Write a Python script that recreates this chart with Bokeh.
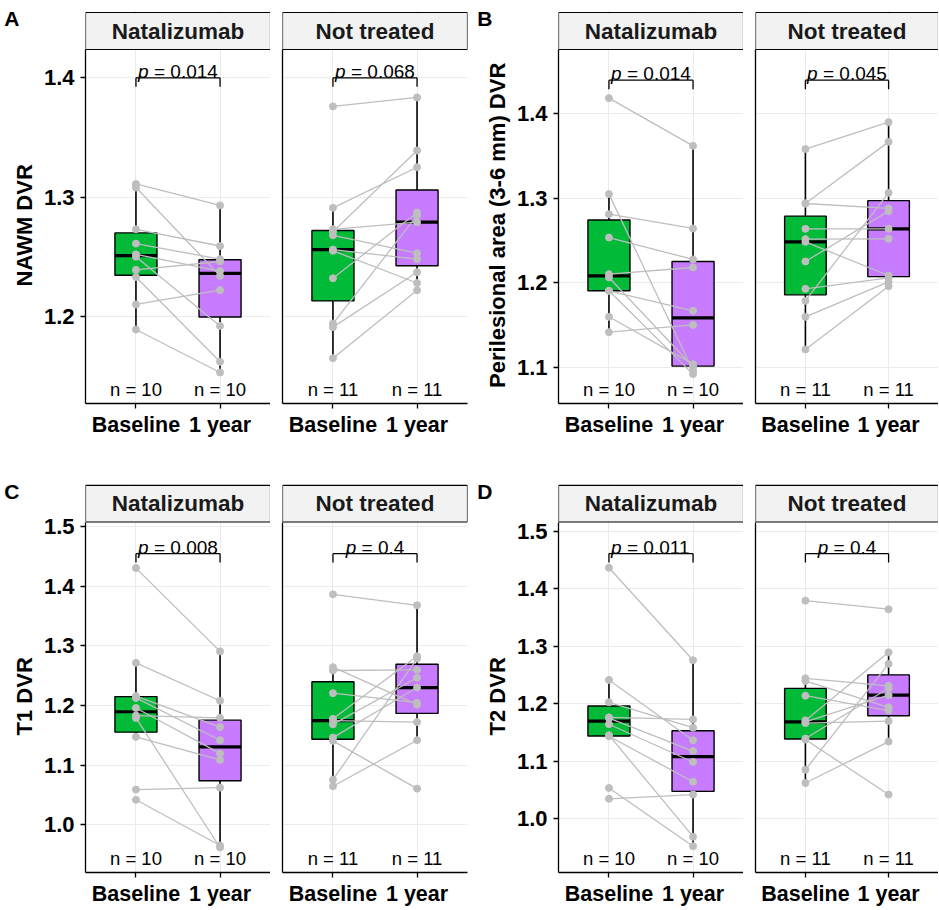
import numpy as np
from bokeh.plotting import figure
from bokeh.layouts import row, column
from bokeh.models import Range1d, FixedTicker, PrintfTickFormatter, LinearAxis
from bokeh.core.properties import value
from bokeh.embed import file_html
from bokeh.resources import INLINE

FONT = "Liberation Sans"

time_labels = ["Baseline", "1 year"]
group_labels = ["Natalizumab", "Not treated"]
box_colors = ["#00BA38", "#C77CFF"]

# ---- Panel A: NAWM DVR (paired: same index = same patient) ----
nawm_nat_base = [1.311, 1.308, 1.273, 1.261, 1.252, 1.250, 1.239, 1.233, 1.210, 1.189]
nawm_nat_1y = [1.293, 1.234, 1.259, 1.248, 1.238, 1.192, 1.246, 1.162, 1.222, 1.153]
nawm_nt_base = [1.376, 1.291, 1.273, 1.271, 1.268, 1.256, 1.255, 1.232, 1.194, 1.191, 1.165]
nawm_nt_1y = [1.3835, 1.325, 1.279, 1.339, 1.253, 1.248, 1.228, 1.287, 1.2846, 1.237, 1.222]

# ---- Panel B: Perilesional area (3-6 mm) DVR ----
peri_nat_base = [1.4186, 1.3049, 1.2812, 1.2535, 1.2101, 1.2062, 1.1904, 1.1904, 1.1596, 1.1414]
peri_nat_1y = [1.3621, 1.0956, 1.2642, 1.2275, 1.218, 1.1004, 1.1667, 1.0917, 1.1035, 1.150]
peri_nt_base = [1.3582, 1.2938, 1.2938, 1.2638, 1.2516, 1.2484, 1.2251, 1.1927, 1.1785, 1.1596, 1.1209]
peri_nt_1y = [1.3901, 1.3668, 1.2879, 1.2638, 1.2519, 1.2085, 1.2847, 1.2058, 1.3064, 1.201, 1.1959]

# ---- Panel C: T1 DVR ----
t1_nat_base = [1.43, 1.2713, 1.2155, 1.2125, 1.1957, 1.183, 1.179, 1.1473, 1.059, 1.0419]
t1_nat_1y = [1.2905, 1.2078, 1.1637, 1.1417, 1.1196, 1.1792, 0.962, 1.1086, 1.0623, 0.9653]
t1_nt_base = [1.386, 1.2641, 1.2585, 1.2205, 1.1775, 1.1745, 1.1683, 1.1461, 1.1406, 1.0755, 1.0645]
t1_nt_1y = [1.3677, 1.2012, 1.2596, 1.2045, 1.2823, 1.172, 1.2464, 1.2299, 1.0606, 1.2784, 1.1417]

# ---- Panel D: T2 DVR ----
t2_nat_base = [1.4365, 1.2415, 1.2026, 1.1765, 1.175, 1.1645, 1.1455, 1.1436, 1.0538, 1.0349]
t2_nat_1y = [1.2757, 1.1367, 1.1585, 1.1728, 1.1178, 1.0989, 0.9691, 1.0646, 0.9525, 1.0423]
t2_nt_base = [1.3793, 1.2443, 1.2397, 1.2141, 1.1712, 1.1685, 1.1666, 1.1396, 1.1379, 1.0854, 1.0624]
t2_nt_1y = [1.3644, 1.2312, 1.194, 1.1883, 1.2895, 1.215, 1.17, 1.2271, 1.0423, 1.2695, 1.1344]

# p-values, y ranges, ticks, bracket heights
p_A = ["0.014", "0.068"]
p_B = ["0.014", "0.045"]
p_C = ["0.008", "0.4"]
p_D = ["0.011", "0.4"]

ticks_A = [1.2, 1.3, 1.4]
ticks_B = [1.1, 1.2, 1.3, 1.4]
ticks_C = [1.0, 1.1, 1.2, 1.3, 1.4, 1.5]
ticks_D = [1.0, 1.1, 1.2, 1.3, 1.4, 1.5]

yrange_A = (1.127, 1.4237)
yrange_B = (1.0569, 1.4762)
yrange_C = (0.9201, 1.5072)
yrange_D = (0.9068, 1.516)

bracket_A = 1.400
bracket_B = 1.4399
bracket_C = 1.4542
bracket_D = 1.4611

panels = [
    dict(letter="A", ylabel="NAWM DVR", yr=yrange_A, ticks=ticks_A, bracket=bracket_A, p=p_A,
         data=[(nawm_nat_base, nawm_nat_1y), (nawm_nt_base, nawm_nt_1y)]),
    dict(letter="B", ylabel="Perilesional area (3-6 mm) DVR", yr=yrange_B, ticks=ticks_B, bracket=bracket_B, p=p_B,
         data=[(peri_nat_base, peri_nat_1y), (peri_nt_base, peri_nt_1y)]),
    dict(letter="C", ylabel="T1 DVR", yr=yrange_C, ticks=ticks_C, bracket=bracket_C, p=p_C,
         data=[(t1_nat_base, t1_nat_1y), (t1_nt_base, t1_nt_1y)]),
    dict(letter="D", ylabel="T2 DVR", yr=yrange_D, ticks=ticks_D, bracket=bracket_D, p=p_D,
         data=[(t2_nat_base, t2_nat_1y), (t2_nt_base, t2_nt_1y)]),
]

# ---- layout geometry (pixels) ----
STRIP_BAND = 37      # strip height
STRIP_PAD = 2        # gap between frame top and strip top
ROW_GEOM = [dict(top=10, data_h=354, bottom=71),
            dict(top=9, data_h=355, bottom=31)]
# per facet figure: (left border, frame width, right border)
COL_GEOM = [[(85, 185, 0), (12, 185, 3)],
            [(88, 185, 0), (12, 183, 0)]]
# trailing no-break spaces re-centre the y title on the data area (the strip sits inside the frame)
TITLE_PAD = "\u00a0" * 6

GRAY = "#BEBEBE"
GRID = "#EBEBEB"
EM = {' ': 0.278, '=': 0.584, '.': 0.278, 'p': 0.556}


def text_w(s, size):
    return sum(EM.get(c, 0.556) for c in s) * size


def box_stats(v):
    v = np.asarray(v, dtype=float)
    q1, med, q3 = np.percentile(v, [25, 50, 75])
    iqr = q3 - q1
    lo = v[v >= q1 - 1.5 * iqr].min()
    hi = v[v <= q3 + 1.5 * iqr].max()
    return q1, med, q3, lo, hi


def facet_fig(pn, gi, rg, cg):
    first = gi == 0
    lb, fw, rb = cg[gi]
    top_b = rg['top']
    dh = rg['data_h']
    bb = rg['bottom']
    above = STRIP_BAND + STRIP_PAD
    fh = dh + above
    y0, y1 = pn['yr']
    px = (y1 - y0) / dh  # data units per pixel
    ytop = y1 + above * px

    p = figure(width=lb + fw + rb, height=top_b + fh + bb, x_range=Range1d(0.4, 2.6),
               y_range=Range1d(y0, ytop), x_axis_location="below", y_axis_location="left",
               toolbar_location=None, output_backend="svg", min_border_left=lb,
               min_border_right=rb, min_border_top=top_b, min_border_bottom=bb)
    p.outline_line_color = None
    p.background_fill_color = "white"

    xa = p.xaxis[0]
    xa.ticker = FixedTicker(ticks=[1, 2])
    xa.major_label_overrides = {1: time_labels[0], 2: time_labels[1]}
    xa.minor_tick_line_color = None
    xa.major_tick_in = 0
    xa.major_tick_out = 5
    xa.major_tick_line_width = 1.3
    xa.axis_line_width = 1.3
    xa.axis_line_color = "black"
    xa.major_tick_line_color = "black"
    xa.major_label_standoff = 4
    xa.major_label_text_font = FONT
    xa.major_label_text_font_size = "21.5px"
    xa.major_label_text_font_style = "bold"
    xa.major_label_text_color = "black"

    ya = p.yaxis[0]
    ya.bounds = (y0, y1)
    ya.axis_line_width = 1.3
    ya.axis_line_color = "black"
    ya.minor_tick_line_color = None
    if first:
        ya.ticker = FixedTicker(ticks=pn['ticks'])
        ya.formatter = PrintfTickFormatter(format="%.1f")
        ya.major_tick_in = 0
        ya.major_tick_out = 5
        ya.major_tick_line_width = 1.3
        ya.major_tick_line_color = "black"
        ya.major_label_standoff = 6
        ya.major_label_text_font = FONT
        ya.major_label_text_font_size = "22px"
        ya.major_label_text_font_style = "bold"
        ya.major_label_text_color = "black"
        ya.axis_label = pn['ylabel'] + TITLE_PAD
        ya.axis_label_standoff = 4
        ya.axis_label_text_font = FONT
        ya.axis_label_text_font_size = "22px"
        ya.axis_label_text_font_style = "bold"
        ya.axis_label_text_color = "black"

        # panel letter, level with the top of the strip
        yl = round(y1 + (STRIP_BAND - 6) * px, 6)
        la = LinearAxis(ticker=FixedTicker(ticks=[yl]), major_label_overrides={yl: pn['letter']},
                        axis_line_color=None, major_tick_line_color=None, minor_tick_line_color=None,
                        major_tick_in=0, major_tick_out=0, major_label_standoff=-11)
        la.major_label_text_font = FONT
        la.major_label_text_font_size = "21px"
        la.major_label_text_font_style = "bold"
        la.major_label_text_color = "black"
        p.add_layout(la, "left")
    else:
        ya.ticker = FixedTicker(ticks=[])
        ya.major_tick_out = 0
        ya.major_tick_in = 0
        ya.major_label_standoff = 0

    p.xgrid.ticker = FixedTicker(ticks=[1, 2])
    p.ygrid.ticker = FixedTicker(ticks=pn['ticks'])
    p.xgrid.bounds = (y0, y1)
    p.xgrid.grid_line_color = GRID
    p.ygrid.grid_line_color = GRID
    p.xgrid.grid_line_width = 1
    p.ygrid.grid_line_width = 1

    # facet strip (above the data area, inside the frame)
    p.quad(left=[0.4], right=[2.6], bottom=[y1], top=[y1 + STRIP_BAND * px], fill_color="#F2F2F2",
           line_color="black", line_width=1.2)
    p.text(x=[1.5], y=[y1 + STRIP_BAND * px / 2], text=[group_labels[gi]], text_font=value(FONT),
           text_font_size="22.5px", text_font_style="bold", text_color="#1A1A1A",
           text_align="center", text_baseline="middle")

    base, yr1 = pn['data'][gi]
    xs = [1, 2]
    st = [box_stats(base), box_stats(yr1)]
    q1 = [s[0] for s in st]
    med = [s[1] for s in st]
    q3 = [s[2] for s in st]
    lo = [s[3] for s in st]
    hi = [s[4] for s in st]

    # whiskers
    p.segment(x0=xs, y0=q3, x1=xs, y1=hi, line_color="black", line_width=1.6)
    p.segment(x0=xs, y0=q1, x1=xs, y1=lo, line_color="black", line_width=1.6)
    # boxes
    p.vbar(x=xs, width=0.5, bottom=q1, top=q3, fill_color=box_colors, line_color="black", line_width=1.4)
    # medians
    p.segment(x0=[x - 0.25 for x in xs], y0=med, x1=[x + 0.25 for x in xs], y1=med,
              line_color="black", line_width=3.2)

    # paired lines and points
    n = len(base)
    p.segment(x0=[1] * n, y0=base, x1=[2] * n, y1=yr1, line_color=GRAY, line_width=1.3)
    p.scatter(x=[1] * n + [2] * len(yr1), y=list(base) + list(yr1), size=7, marker="circle",
              fill_color=GRAY, line_color=GRAY)

    # n labels
    ny = y0 + 14 * px
    p.text(x=xs, y=[ny, ny], text=["n = %d" % len(base), "n = %d" % len(yr1)], text_font=value(FONT),
           text_font_size="18.5px", text_color="black", text_align="center", text_baseline="middle")

    # p-value bracket
    by = pn['bracket']
    tip = 9 * px
    p.segment(x0=[1, 1, 2], y0=[by, by, by], x1=[2, 1, 2], y1=[by, by - tip, by - tip],
              line_color="black", line_width=1.3)
    fs = 19
    rest = "= " + pn['p'][gi]
    wp = text_w("p", fs)
    gap = text_w(" ", fs)
    wr = text_w(rest, fs)
    W = wp + gap + wr
    ty = by + 6.5 * px
    p.text(x=[1.5], y=[ty], text=["p"], text_font=value(FONT), text_font_size="%dpx" % fs,
           text_font_style="italic", text_color="black", text_align="left",
           text_baseline="alphabetic", x_offset=-W / 2)
    p.text(x=[1.5], y=[ty], text=[rest], text_font=value(FONT), text_font_size="%dpx" % fs,
           text_color="black", text_align="left", text_baseline="alphabetic",
           x_offset=-W / 2 + wp + gap)
    return p


def panel_figs(pn, ri, ci):
    rg = ROW_GEOM[ri]
    cg = COL_GEOM[ci]
    return [facet_fig(pn, 0, rg, cg), facet_fig(pn, 1, rg, cg)]


layout = column(
    row(*panel_figs(panels[0], 0, 0), *panel_figs(panels[1], 0, 1), spacing=0),
    row(*panel_figs(panels[2], 1, 0), *panel_figs(panels[3], 1, 1), spacing=0),
    spacing=0,
)

open("out.html", "w").write(file_html(layout, INLINE))
